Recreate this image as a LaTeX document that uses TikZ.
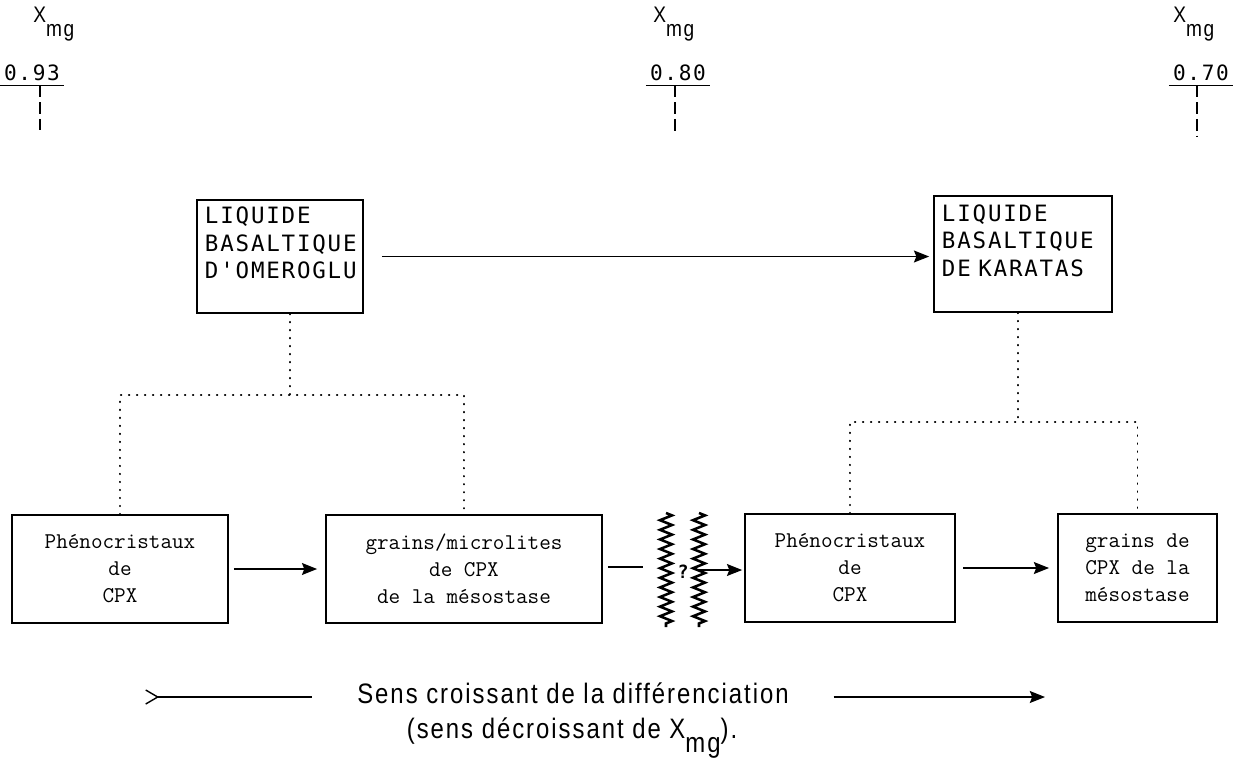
\documentclass[tikz,border=0pt]{standalone}
\usepackage{fontspec}
\usetikzlibrary{arrows.meta,decorations.pathmorphing,positioning}
\newfontfamily\typesans[LetterSpace=8]{DejaVu Sans Mono}
\newfontfamily\condsans[FakeStretch=0.85,LetterSpace=7]{Liberation Sans}
\newcommand{\Xmg}[1][-0.9ex]{X\raisebox{#1}{mg}}

\begin{document}
\begin{tikzpicture}[x=0.025cm,y=-0.025cm,
  liqbox/.style={draw,line width=1.2pt,align=left,
    font=\typesans\fontsize{16}{19.5}\selectfont,inner xsep=0.2cm},
  cpxbox/.style={draw,line width=1.2pt,align=center,minimum height=2.7cm,
    font=\ttfamily\fontsize{16}{19.2}\selectfont},
  valnum/.style={font=\typesans\fontsize{15}{18}\selectfont,inner sep=0.1cm,minimum width=1.4cm},
  xlab/.style={font=\condsans\fontsize{16}{18}\selectfont,inner sep=0pt,anchor=base west},
  senstext/.style={font=\condsans\fontsize{20}{24}\selectfont},
  tickdash/.style={line width=2pt,dash pattern=on 0.3cm off 0.12cm},
  dotline/.style={line width=1.4pt,line cap=round,dash pattern=on 0.01cm off 0.19cm},
  arr/.style={line width=0.9pt,-{Stealth[length=0.38cm,width=0.3cm,inset=0.06cm]}},
  wave/.style={line width=1.8pt,decorate,decoration={zigzag,segment length=0.24cm,amplitude=0.15cm}}
]
\useasboundingbox (0,0) rectangle (1239,778);

% X_mg scale at the top
\node[xlab] (xmgA) at (33,22) {\Xmg[-1.2ex]};
\node[xlab] (xmgB) at (653,22) {\Xmg[-1.2ex]};
\node[xlab] (xmgC) at (1173,22) {\Xmg[-1.2ex]};
\node[valnum] (valA) at (32,73) {0.93};
\node[valnum] (valB) at (678,73) {0.80};
\node[valnum] (valC) at (1201,73) {0.70};
\foreach \v in {valA,valB,valC}
  \draw[line width=1pt] (\v.south west) -- (\v.south east);
\coordinate (tickA) at (40,130);
\coordinate (tickB) at (675,133);
\coordinate (tickC) at (1197,137);
\draw[tickdash] (tickA |- valA.south) -- (tickA);
\draw[tickdash] (tickB |- valB.south) -- (tickB);
\draw[tickdash] (tickC |- valC.south) -- (tickC);

% Liquids
\node[liqbox,text width=3.75cm,minimum height=2.83cm] (omer) at (280,256.5)
  {LIQUIDE\\BASALTIQUE\\D'OMEROGLU\\[-6pt]\strut};
\node[liqbox,text width=4.05cm,minimum height=2.9cm] (kara) at (1023,254)
  {LIQUIDE\\BASALTIQUE\\DE KARATAS\\[-6pt]\strut};
\draw[arr,shorten <=0.45cm,shorten >=0.1cm] (omer.east) -- (omer.east -| kara.west);

% Clinopyroxenes
\node[cpxbox,minimum width=5.4cm] (phenoA) at (120,569) {Phénocristaux\\de\\CPX};
\node[cpxbox,minimum width=6.9cm] (grainsA) at (464,569) {grains/microlites\\de CPX\\de la mésostase};
\node[cpxbox,minimum width=5.25cm] (phenoB) at (850,568) {Phénocristaux\\de\\CPX};
\node[cpxbox,minimum width=3.98cm] (grainsB) at (1137.5,568) {grains de\\CPX de la\\mésostase};
\draw[arr,shorten <=0.125cm,shorten >=0.2cm] (phenoA) -- (grainsA);
\draw[arr,shorten <=0.18cm,shorten >=0.2cm] (phenoB) -- (grainsB);

% Dotted links
\coordinate (jA) at (290,395);
\draw[dotline] (omer.south -| jA) -- (jA);
\draw[dotline] (phenoA.north) |- (jA) -| (grainsA.north);
\coordinate (jB) at (1018,422);
\draw[dotline] (kara.south -| jB) -- (jB);
\draw[dotline] (phenoB.north) |- (jB) -| (grainsB.north);

% Break between the two series
\coordinate (w1t) at (666,513);
\coordinate (w1b) at (666,627);
\coordinate (w2t) at (699,513);
\coordinate (w2b) at (699,627);
\draw[wave] (w1t) -- (w1b);
\draw[wave] (w2t) -- (w2b);
\node[font=\typesans\bfseries\fontsize{13}{14}\selectfont,inner sep=0pt] (qmark) at (683,572) {?};
\coordinate (wl) at (643,567);
\draw[line width=0.9pt,shorten <=0.125cm] (grainsA.east |- wl) -- (wl);
\coordinate (qa) at (699,570);
\draw[arr,shorten >=0.05cm] (qa) -- (qa -| phenoB.west);

% Direction of differentiation
\node[senstext] (sens) at (573,693) {Sens croissant de la différenciation};
\node[senstext] (sens2) at (572,738) {(sens décroissant de \Xmg).};
\coordinate (tailL) at (145,697);
\coordinate (headR) at (1045,697);
\draw[line width=1pt,{Straight Barb[reversed,length=0.3cm,width=0.35cm]}-,shorten >=1cm]
  (tailL) -- (tailL -| sens.west);
\draw[arr,shorten <=1cm] (headR -| sens.east) -- (headR);
\end{tikzpicture}
\end{document}
